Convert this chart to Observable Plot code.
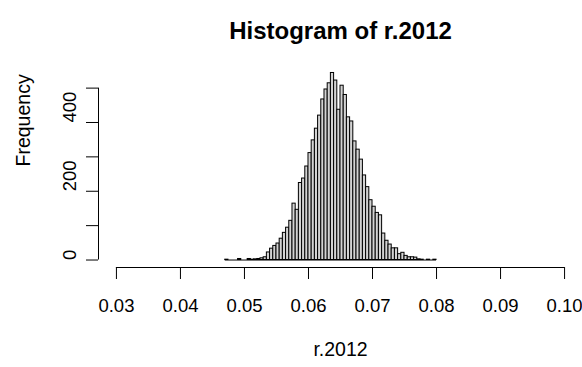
<!DOCTYPE html>
<html>
<head>
<meta charset="utf-8">
<script src="https://cdn.jsdelivr.net/npm/d3@7"></script>
<script src="https://cdn.jsdelivr.net/npm/@observablehq/plot@0.6"></script>
<style>
  body { margin: 0; background: #fff; }
</style>
</head>
<body>
<div id="chart"></div>
<script>
// Histogram breaks: first break and bin width
const breakStart = 0.047;
const binWidth = 0.0005;

// Frequency in each bin, left to right
const counts = [
  1, 0, 0, 0, 3, 0, 0, 3, 1, 2,
  3, 5, 8, 22, 33, 41, 48, 62, 79, 94,
  114, 164, 146, 224, 237, 272, 311, 348, 382, 420,
  467, 496, 514, 544, 522, 437, 507, 480, 415, 403,
  345, 321, 292, 246, 212, 174, 155, 137, 130, 77,
  56, 45, 34, 34, 17, 21, 12, 8, 8, 7,
  2, 1, 0, 1, 0, 1
];

// Axis ticks and labels
const xTicks = [0.03, 0.04, 0.05, 0.06, 0.07, 0.08, 0.09, 0.10];
const yTicks = [0, 100, 200, 300, 400, 500];
const yLabeled = [0, 200, 400];

const titleText = "Histogram of r.2012";
const xLabelText = "r.2012";
const yLabelText = "Frequency";

const bins = counts.map((n, i) => ({
  x1: breakStart + i * binWidth,
  x2: breakStart + (i + 1) * binWidth,
  n
}));

// 4% padding on both scales, as in base R graphics
const xPad = 0.04 * (xTicks[xTicks.length - 1] - xTicks[0]);
const xDomain = [xTicks[0] - xPad, xTicks[xTicks.length - 1] + xPad];
const yMax = d3.max(counts);
const yDomain = [-0.04 * yMax, 1.04 * yMax];

const chart = Plot.plot({
  width: 582,
  height: 367,
  marginLeft: 98,
  marginRight: 0,
  marginTop: 65,
  marginBottom: 100,
  style: {
    fontFamily: "'Liberation Sans', Arial, sans-serif",
    fontSize: "19px",
    color: "black",
    background: "white"
  },
  x: { domain: xDomain },
  y: { domain: yDomain },
  marks: [
    // bars
    Plot.rect(bins, {
      x1: "x1", x2: "x2", y1: () => 0, y2: "n",
      fill: "#d3d3d3", stroke: "black", strokeWidth: 1, inset: 0
    }),
    // bottoms of the (possibly empty) bins
    Plot.ruleY([0], { x1: bins[0].x1, x2: bins[bins.length - 1].x2, stroke: "black" }),
    // axis lines spanning first to last tick
    Plot.ruleY([yDomain[0]], { x1: xTicks[0], x2: xTicks[xTicks.length - 1], stroke: "black" }),
    Plot.ruleX([xDomain[0]], { y1: yTicks[0], y2: yTicks[yTicks.length - 1], stroke: "black" }),
    Plot.axisX({
      ticks: xTicks, tickSize: 12, tickPadding: 19,
      tickFormat: d3.format(".2f"), fontSize: 18.5, label: null, stroke: "black"
    }),
    Plot.axisY({
      ticks: yTicks, tickSize: 12, tickFormat: () => "", label: null, stroke: "black"
    }),
    Plot.text(yLabeled, {
      y: d => d, text: d => String(d), frameAnchor: "left", dx: -28,
      rotate: -90, fontSize: 18.5, fill: "black"
    }),
    Plot.text([yLabelText], {
      text: d => d, frameAnchor: "left", dx: -75, rotate: -90, fontSize: 19.5, fill: "black"
    }),
    Plot.text([xLabelText], {
      text: d => d, frameAnchor: "bottom", dy: 88, fontSize: 19.5, fill: "black"
    }),
    Plot.text([titleText], {
      text: d => d, frameAnchor: "top", dy: -44, fontSize: 24, fontWeight: "bold", fill: "black"
    })
  ]
});

document.getElementById("chart").appendChild(chart);
</script>
</body>
</html>
